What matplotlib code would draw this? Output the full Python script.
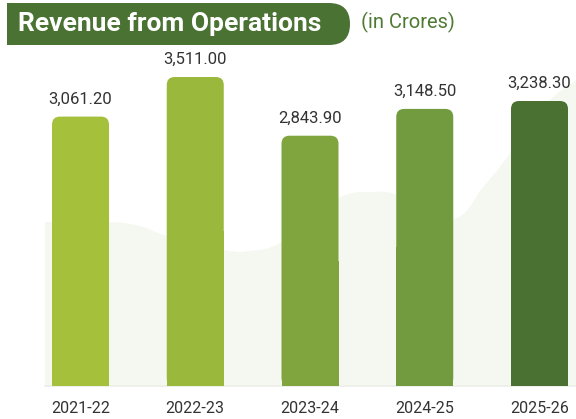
import numpy as np
import matplotlib
matplotlib.use("Agg")
import matplotlib.pyplot as plt
from matplotlib.patches import FancyBboxPatch, Rectangle, Polygon
from matplotlib.transforms import Affine2D, IdentityTransform

plt.rcParams['font.family'] = ['Roboto', 'DejaVu Sans']

# data
years = ['2021-22', '2022-23', '2023-24', '2024-25', '2025-26']
revenue = [3061.20, 3511.00, 2843.90, 3148.50, 3238.30]
bar_colors = ['#a5c13b', '#9ab83c', '#80a43e', '#729a3f', '#4a7032']

W, H = 576, 419
fig = plt.figure(figsize=(W / 100, H / 100), dpi=100)
fig.patch.set_facecolor('white')

# pixel coords with origin at top-left
px = Affine2D().scale(1, -1).translate(0, H) + IdentityTransform()

# decorative background wave
wave_pts = np.array([(45, 222), (109, 222), (140, 226), (167, 236), (224, 250),
                     (250, 251), (282, 242), (339, 198), (375, 192), (397, 195),
                     (453, 219), (484, 186), (509, 155), (545, 105), (576, 80)], float)


def catmull(p, n=12):
    p = np.vstack([p[0], p, p[-1]])
    out = []
    for i in range(1, len(p) - 2):
        p0, p1, p2, p3 = p[i - 1], p[i], p[i + 1], p[i + 2]
        for t in np.linspace(0, 1, n, endpoint=False):
            t2, t3 = t * t, t * t * t
            out.append(0.5 * ((2 * p1) + (-p0 + p2) * t + (2 * p0 - 5 * p1 + 4 * p2 - p3) * t2
                              + (-p0 + 3 * p1 - 3 * p2 + p3) * t3))
    out.append(p[-2])
    return np.array(out)


curve = catmull(wave_pts)
poly = np.vstack([curve, [(576, 386), (45, 386)]])
fig.patches.append(Polygon(poly, closed=True, transform=px, facecolor='#f5f8f1',
                           edgecolor='none', zorder=-1))

# axes
left, right, top, base = 45, 576, 45, 386
ax = fig.add_axes([left / W, (H - base) / H, (right - left) / W, (base - top) / H])
ax.patch.set_visible(False)
x = np.arange(len(years))
pitch = 114.75
x0 = 80.5
ax.set_xlim((left - x0) / pitch, (right - x0) / pitch)
scale = 309 / 3511.0
ax.set_ylim(0, (base - top) / scale)

bw = 57 / pitch
r_px = 8
rx = r_px / pitch
ry = r_px / scale
for xi, v, c in zip(x, revenue, bar_colors):
    ax.add_patch(FancyBboxPatch((xi - bw / 2, 0), bw, v,
                                boxstyle=f"round,pad=0,rounding_size={rx}",
                                mutation_aspect=ry / rx, facecolor=c,
                                edgecolor='none', zorder=2))
    ax.add_patch(Rectangle((xi - bw / 2, 0), bw, v * 0.5, facecolor=c,
                           edgecolor='none', zorder=3))
    ax.annotate(f"{v:,.2f}", (xi, v), xytext=(0, 7), textcoords='offset points',
                ha='center', va='bottom', fontsize=12, color='#333333')

ax.set_xticks(x)
ax.set_xticklabels(years, fontsize=11.5, color='#333333')
ax.tick_params(axis='x', length=0, pad=11)
ax.set_yticks([])
for s in ['left', 'right', 'top']:
    ax.spines[s].set_visible(False)
ax.spines['bottom'].set_color('#eceee8')
ax.spines['bottom'].set_linewidth(1.2)

# title banner
fig.patches.append(Rectangle((7, 3), 300, 42, transform=px, facecolor='#4a7233',
                             edgecolor='none'))
fig.patches.append(FancyBboxPatch((250, 3), 100, 42, transform=px,
                                  boxstyle="round,pad=0,rounding_size=21",
                                  facecolor='#4a7233', edgecolor='none'))
fig.text(18 / W, 1 - 24 / H, 'Revenue from Operations', fontsize=19, fontweight='bold',
         color='white', ha='left', va='center')
fig.text(361 / W, 1 - 22 / H, '(in Crores)', fontsize=14.5, color='#4f7a33',
         ha='left', va='center')

fig.savefig('out.png', dpi=100)
